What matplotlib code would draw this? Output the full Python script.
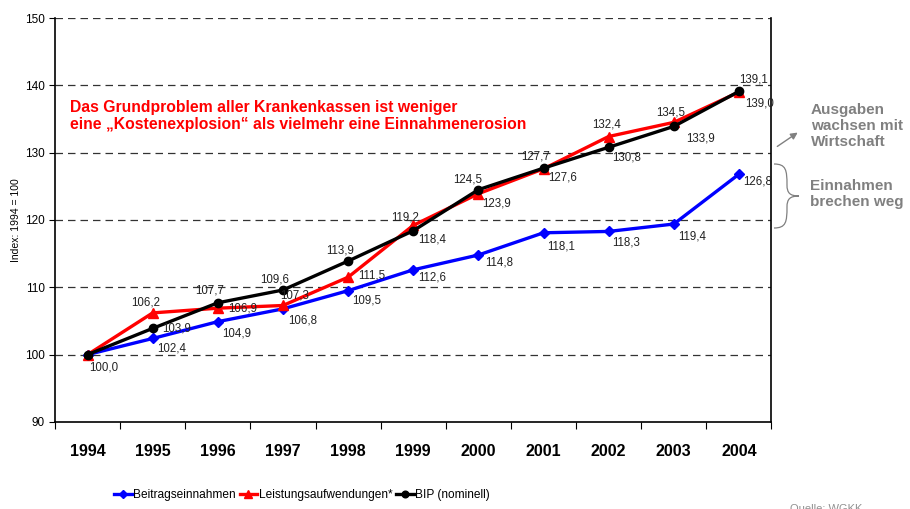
import matplotlib.pyplot as plt
import numpy as np
from matplotlib.path import Path
from matplotlib.patches import PathPatch

plt.rcParams['font.family'] = ['Liberation Sans', 'DejaVu Sans']

years = ['1994', '1995', '1996', '1997', '1998', '1999', '2000', '2001', '2002', '2003', '2004']
beitrag = [100.0, 102.4, 104.9, 106.8, 109.5, 112.6, 114.8, 118.1, 118.3, 119.4, 126.8]
leistung = [100.0, 106.2, 106.9, 107.3, 111.5, 119.2, 123.9, 127.6, 132.4, 134.5, 139.0]
bip = [100.0, 103.9, 107.7, 109.6, 113.9, 118.4, 124.5, 127.7, 130.8, 133.9, 139.1]

# label offsets in pixels (dx, dy, ha)
off_beitrag = [(2, -13, 'left'), (4, -10, 'left'), (4, -12, 'left'), (5, -12, 'left'), (4, -10, 'left'),
               (5, -8, 'left'), (7, -8, 'left'), (4, -14, 'left'), (4, -11, 'left'), (4, -12, 'left'),
               (4, -7, 'left')]
off_leistung = [None, (-7, 10, 'center'), (10, 0, 'left'), (-3, 10, 'left'), (10, 2, 'left'),
                (-8, 8, 'center'), (4, -10, 'left'), (5, -9, 'left'), (-2, 12, 'center'),
                (-3, 10, 'center'), (6, -11, 'left')]
off_bip = [None, (9, 0, 'left'), (-8, 12, 'center'), (-8, 11, 'center'), (-8, 11, 'center'),
           (5, -9, 'left'), (-11, 10, 'center'), (-8, 12, 'center'), (4, -10, 'left'),
           (12, -12, 'left'), (15, 12, 'center')]

fig = plt.figure(figsize=(9.1, 5.09), dpi=100)
ax = fig.add_axes([0.0604, 0.171, 0.7874, 0.7936])

x = np.arange(len(years))
ax.plot(x, beitrag, color='#0000ff', lw=2.4, marker='D', ms=5, label='Beitragseinnahmen', zorder=3)
ax.plot(x, leistung, color='#ff0000', lw=2.4, marker='^', ms=7, label='Leistungsaufwendungen*', zorder=4)
ax.plot(x, bip, color='#000000', lw=2.4, marker='o', ms=6, label='BIP (nominell)', zorder=5)

def fmt(v):
    return f'{v:.1f}'.replace('.', ',')

for vals, offs in [(beitrag, off_beitrag), (leistung, off_leistung), (bip, off_bip)]:
    for i, (v, o) in enumerate(zip(vals, offs)):
        if o is None:
            continue
        ax.annotate(fmt(v), (x[i], v), xytext=(o[0], o[1]), textcoords='offset pixels',
                    ha=o[2], va='center', fontsize=8.3, color='#222222', zorder=6)

ax.set_xlim(-0.5, len(years) - 0.5)
ax.set_ylim(90, 150)
ax.set_yticks(range(90, 151, 10))
ax.tick_params(axis='y', labelsize=8.5, direction='out', length=4)
ax.set_xticks(np.arange(-0.5, len(years), 1))
ax.set_xticklabels([])
ax.set_xticks(x, minor=True)
ax.set_xticklabels(years, minor=True, fontsize=11.5, fontweight='bold')
ax.tick_params(axis='x', which='major', direction='out', length=5)
ax.tick_params(axis='x', which='minor', length=0, pad=16)
for gy in range(100, 151, 10):
    ax.axhline(gy, color='#333333', lw=0.9, ls=(0, (6, 4)), zorder=1)
for s in ax.spines.values():
    s.set_linewidth(1.2)
ax.spines['top'].set_visible(False)
ax.set_ylabel('Index: 1994 = 100', fontsize=7.5, labelpad=3)

ax.text(0.021, 0.757, 'Das Grundproblem aller Krankenkassen ist weniger\n'
        'eine \u201eKostenexplosion\u201c als vielmehr eine Einnahmenerosion',
        transform=ax.transAxes, color='#ff0000', fontsize=11.3, fontweight='bold',
        va='center', ha='left', linespacing=1.2)

fig.text(811 / 910, 1 - 126 / 509, 'Ausgaben\nwachsen mit\nWirtschaft', color='#808080',
         fontsize=11, fontweight='bold', ha='left', va='center', linespacing=1.15)
fig.text(810 / 910, 1 - 194 / 509, 'Einnahmen\nbrechen weg', color='#808080',
         fontsize=11, fontweight='bold', ha='left', va='center', linespacing=1.15)
ax.annotate('', xy=(800 / 910, 1 - 131 / 509), xytext=(775 / 910, 1 - 148 / 509),
            xycoords='figure fraction', textcoords='figure fraction',
            arrowprops=dict(arrowstyle='-|>', color='#808080', lw=1, mutation_scale=10))

# curly brace
def px(xp, yp):
    return (xp / 910, 1 - yp / 509)
verts = [px(774, 164), px(786, 164), px(787, 170), px(787, 185),
         px(787, 193), px(790, 196), px(799, 196),
         px(790, 196), px(787, 199), px(787, 207),
         px(787, 222), px(786, 228), px(774, 228)]
codes = [Path.MOVETO] + [Path.CURVE4] * 12
fig.add_artist(PathPatch(Path(verts, codes), transform=fig.transFigure, fill=False,
                         edgecolor='#808080', lw=0.9))

leg = ax.legend(loc='center', bbox_to_anchor=(302 / 910, 1 - 495 / 509), bbox_transform=fig.transFigure,
                ncol=3, frameon=False, fontsize=8.6, handlelength=1.5,
                handletextpad=0.1, columnspacing=0.3, markerscale=0.8)

fig.text(790 / 910, 0.0, 'Quelle: WGKK', color='#909090', fontsize=8, ha='left', va='center')

fig.savefig('out.png', dpi=100)
